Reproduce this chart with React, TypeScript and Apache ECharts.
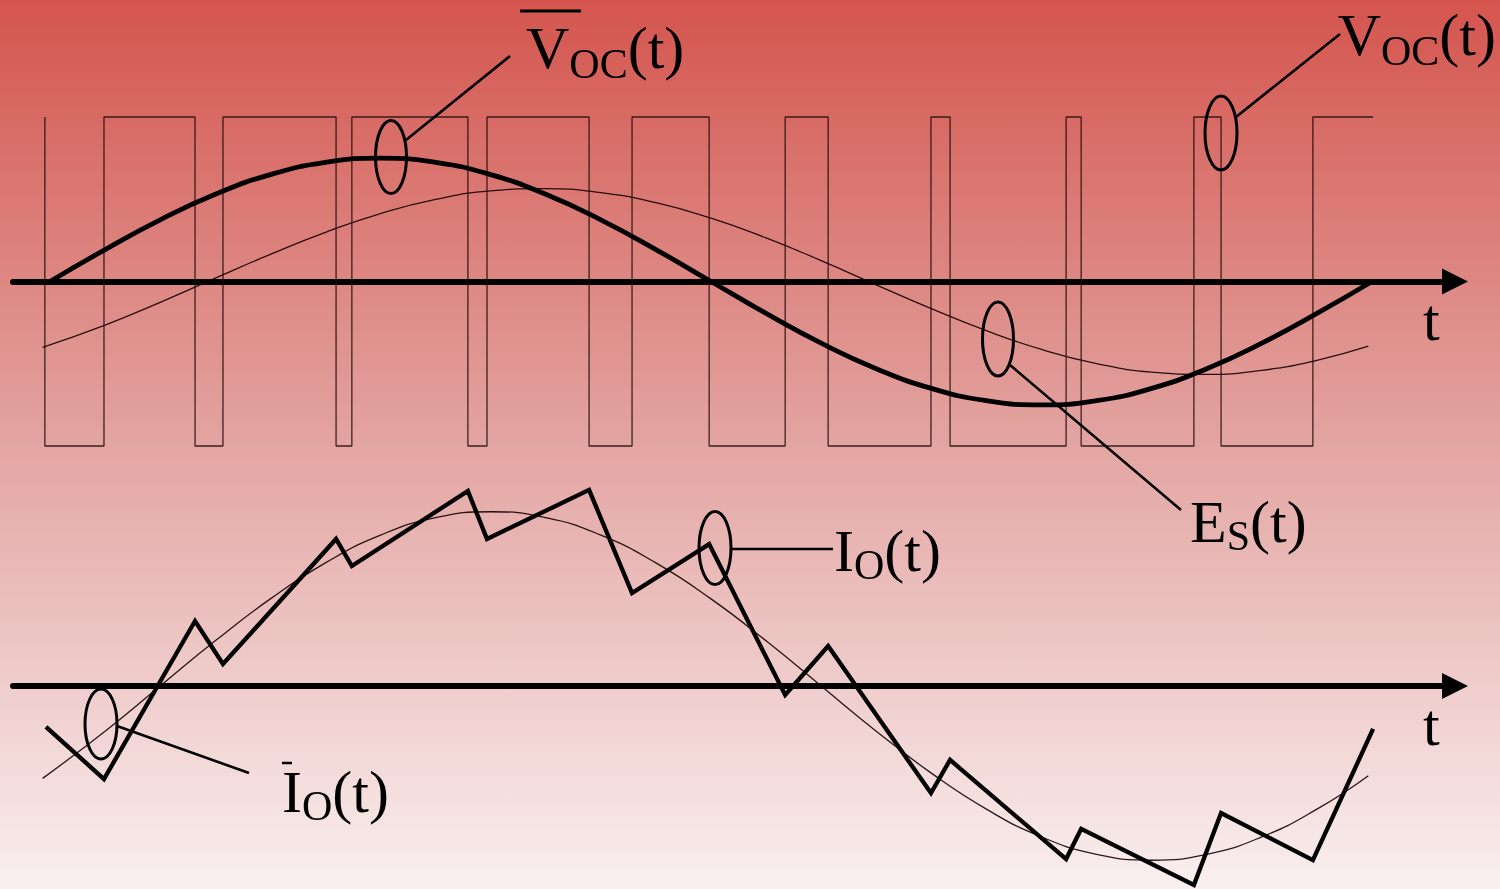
import React, { useEffect, useRef } from "react";
import * as echarts from "echarts";

// ---- data (electrical angle in degrees, normalised amplitudes) ----
// PWM switching instants of V_OC(t) and the end of the period
const switchAngles = [-1.4, 14.7, 39.5, 47.1, 77.9, 82.2, 113.8, 119.0, 146.8, 158.5, 179.5, 200.2, 211.9, 239.9, 245.1, 276.7, 280.8, 311.5, 318.9, 343.9, 360.3];
// level of V_OC(t) between consecutive switching instants
const pwmLevels = [-1, 1, -1, 1, -1, 1, -1, 1, -1, 1, -1, 1, -1, 1, -1, 1, -1, 1, -1, 1];
const pwmStartLevel = 1;

// averaged converter voltage V̄_OC(t)
const vAvgAngles = [0, 15, 30, 45, 60, 75, 90, 105, 120, 135, 150, 165, 180, 195, 210, 225, 240, 255, 270, 285, 300, 315, 330, 345, 360];
const vAvgValues = [0, 0.194, 0.375, 0.53, 0.65, 0.724, 0.75, 0.724, 0.65, 0.53, 0.375, 0.194, 0, -0.194, -0.375, -0.53, -0.65, -0.724, -0.75, -0.724, -0.65, -0.53, -0.375, -0.194, 0];

// source voltage E_S(t) and averaged current Ī_O(t)
const refAngles = [-2, 15, 30, 45, 60, 75, 90, 105, 120, 135, 150, 165, 180, 195, 210, 225, 240, 255, 270, 285, 300, 315, 330, 345, 359];
const esValues = [-0.4, -0.265, -0.127, 0.02, 0.165, 0.299, 0.413, 0.499, 0.551, 0.565, 0.54, 0.479, 0.385, 0.265, 0.127, -0.02, -0.165, -0.299, -0.413, -0.499, -0.551, -0.565, -0.54, -0.479, -0.393];
const ioAvgValues = [-0.546, -0.267, 0, 0.267, 0.515, 0.728, 0.892, 0.995, 1.03, 0.995, 0.892, 0.728, 0.515, 0.267, 0, -0.267, -0.515, -0.728, -0.892, -0.995, -1.03, -0.995, -0.892, -0.728, -0.53];

// instantaneous current I_O(t), vertices at the switching instants
const ioAngles = [-1.1, 14.7, 39.5, 47.1, 77.9, 82.2, 113.8, 119.0, 146.8, 158.5, 179.5, 200.2, 211.9, 239.9, 245.1, 276.7, 280.8, 311.5, 318.9, 343.9, 360.3];
const ioValues = [-0.242, -0.55, 0.384, 0.13, 0.869, 0.709, 1.153, 0.869, 1.159, 0.55, 0.839, -0.053, 0.236, -0.633, -0.437, -1.023, -0.845, -1.176, -0.751, -1.029, -0.254];

const SERIF = "'Liberation Serif', 'Times New Roman', 'DejaVu Serif', serif";
const W = 1500;
const H = 889;
const MAIN = 60;
const SUB = 42;

const zip = (xs: number[], ys: number[]) => xs.map((x, i) => [x, ys[i]]);

function pwmPoints() {
  const pts: number[][] = [[switchAngles[0], pwmStartLevel]];
  for (let k = 0; k < pwmLevels.length; k++) {
    pts.push([switchAngles[k], pwmLevels[k]]);
    pts.push([switchAngles[k + 1], pwmLevels[k]]);
  }
  return pts;
}

let measureCtx: CanvasRenderingContext2D | null = null;
function textWidth(t: string, size: number) {
  if (!measureCtx) measureCtx = document.createElement("canvas").getContext("2d");
  if (!measureCtx) return t.length * size * 0.5;
  measureCtx.font = `${size}px ${SERIF}`;
  return measureCtx.measureText(t).width;
}

// one text run placed by its alphabetic baseline (text is drawn with a central baseline)
function run(t: string, size: number, left: number, baseline: number) {
  const lh = Math.round(size * 0.8);
  return {
    type: "text",
    x: left,
    y: baseline - lh / 2 - 0.3375 * size,
    z: 50,
    style: {
      text: t,
      fontFamily: SERIF,
      fontSize: size,
      lineHeight: lh,
      fill: "#000",
      align: "left",
      verticalAlign: "top",
    },
  };
}

// main letter + subscript + "(t)"
function label(main: string, sub: string, left: number, baseline: number, drop = 10) {
  const w1 = textWidth(main, MAIN);
  const w2 = textWidth(sub, SUB);
  return [
    run(main, MAIN, left, baseline),
    run(sub, SUB, left + w1, baseline + drop),
    run("(t)", MAIN, left + w1 + w2, baseline),
  ];
}
function labelRight(main: string, sub: string, right: number, baseline: number, drop = 10) {
  const w = textWidth(main, MAIN) + textWidth(sub, SUB) + textWidth("(t)", MAIN);
  return label(main, sub, right - w, baseline, drop);
}

function ellipse(cx: number, cy: number, rx: number, ry: number) {
  return {
    type: "ellipse",
    z: 50,
    shape: { cx, cy, rx, ry },
    style: { fill: "none", stroke: "#000", lineWidth: 3 },
  };
}

function leader(x1: number, y1: number, x2: number, y2: number, w = 2.6) {
  return {
    type: "line",
    z: 50,
    shape: { x1, y1, x2, y2 },
    style: { stroke: "#000", lineWidth: w },
  };
}

export default function App() {
  const ref = useRef<HTMLDivElement>(null);
  useEffect(() => {
    if (!ref.current) return;
    const chart = echarts.init(ref.current, null, { renderer: "svg" });
    const pxPerDeg = 1322 / 360;
    const xMin = (13 - 50) / pxPerDeg;
    const xMax = (1455 - 50) / pxPerDeg;
    const xAxisBase = (gridIndex: number) => ({
      gridIndex,
      type: "value",
      min: xMin,
      max: xMax,
      axisLine: {
        show: true,
        onZero: true,
        symbol: ["none", "triangle"],
        symbolSize: [26, 26],
        lineStyle: { color: "#000", width: 6, cap: "round" },
      },
      axisTick: { show: false },
      axisLabel: { show: false },
      splitLine: { show: false },
    });
    const yAxisBase = (gridIndex: number) => ({
      gridIndex,
      type: "value",
      min: -1.2,
      max: 1.2,
      show: false,
      splitLine: { show: false },
    });
    const thin = { color: "rgba(20,0,0,0.9)", width: 1.3 };
    chart.setOption({
      animation: false,
      backgroundColor: "transparent",
      grid: [
        { left: 13, right: W - 1455, top: 84.1, height: 394.8 },
        { left: 13, right: W - 1455, top: 483, bottom: 0 },
      ],
      xAxis: [xAxisBase(0), xAxisBase(1)],
      yAxis: [yAxisBase(0), yAxisBase(1)],
      series: [
        {
          name: "V_OC(t)",
          type: "line",
          xAxisIndex: 0,
          yAxisIndex: 0,
          data: pwmPoints(),
          showSymbol: false,
          lineStyle: { color: "rgba(30,10,10,0.85)", width: 1.3 },
          z: 3,
        },
        {
          name: "E_S(t)",
          type: "line",
          xAxisIndex: 0,
          yAxisIndex: 0,
          data: zip(refAngles, esValues),
          smooth: 0.5,
          showSymbol: false,
          lineStyle: thin,
          z: 4,
        },
        {
          name: "V̄_OC(t)",
          type: "line",
          xAxisIndex: 0,
          yAxisIndex: 0,
          data: zip(vAvgAngles, vAvgValues),
          smooth: 0.5,
          showSymbol: false,
          lineStyle: { color: "#000", width: 4.8 },
          z: 5,
        },
        {
          name: "Ī_O(t)",
          type: "line",
          xAxisIndex: 1,
          yAxisIndex: 1,
          data: zip(refAngles, ioAvgValues),
          smooth: 0.5,
          showSymbol: false,
          lineStyle: thin,
          z: 4,
        },
        {
          name: "I_O(t)",
          type: "line",
          xAxisIndex: 1,
          yAxisIndex: 1,
          data: zip(ioAngles, ioValues),
          showSymbol: false,
          clip: false,
          lineStyle: { color: "#000", width: 4.3, join: "miter", miterLimit: 8 },
          z: 5,
        },
      ],
      graphic: [
        {
          type: "rect",
          z: -100,
          silent: true,
          shape: { x: 0, y: 0, width: W, height: H },
          style: {
            fill: new echarts.graphic.LinearGradient(0, 0, 0, 1, [
              { offset: 0, color: "#d4554e" },
              { offset: 0.5, color: "#e3a5a2" },
              { offset: 1, color: "#f9efef" },
            ]),
          },
        },
        // markers
        ellipse(391, 157, 15.5, 36.5),
        ellipse(1221, 133, 16, 37),
        ellipse(998, 339, 15.5, 37),
        ellipse(715, 548, 16, 36.5),
        ellipse(101, 724, 16, 35),
        // leaders
        leader(406, 140, 510, 56),
        leader(1236, 117, 1340, 34),
        leader(1010, 365, 1181, 510),
        leader(731, 549, 833, 549),
        leader(117, 726, 249, 773),
        // overbars
        leader(520, 11, 581, 11, 3),
        leader(282, 763, 292, 763, 2.5),
        // labels
        ...label("V", "OC", 526, 68),
        ...labelRight("V", "OC", 1496, 55),
        ...label("E", "S", 1190, 542, 8),
        ...label("I", "O", 834, 571, 8),
        ...label("I", "O", 282, 812, 8),
        run("t", MAIN, 1423, 340),
        run("t", MAIN, 1423, 745),
      ],
    });
    return () => chart.dispose();
  }, []);
  return (
    <div
      ref={ref}
      style={{ position: "fixed", left: 0, top: 0, width: W, height: H }}
    />
  );
}
